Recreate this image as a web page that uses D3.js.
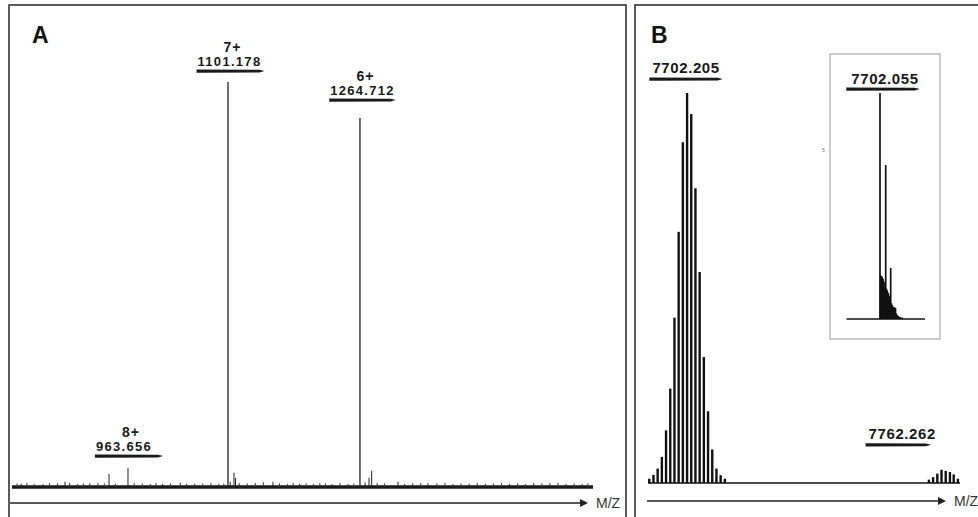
<!DOCTYPE html>
<html>
<head>
<meta charset="utf-8">
<script src="https://cdn.jsdelivr.net/npm/d3@7"></script>
<style>
	body { margin: 0; background: #fff; }
	text { font-family: Arial, "Liberation Sans", sans-serif; }
</style>
</head>
<body>
<script>
// panel A: charge states of the intact protein (m/z, relative intensity)
var mzA = [1101.178, 1264.712, 899.3, 953.8, 977.3, 1104.0, 1108.6, 1110.5, 1156.9,
	1271.0, 1275.9, 1279.2, 1311.8, 1348.9, 845.0, 872.0, 930.0, 1020.0, 1060.0, 1190.0,
	1230.0, 1330.0, 1400.0, 1450.0, 1500.0, 1540.0];
var intA = [100, 91.1, 1.3, 3.2, 4.7, 1.3, 3.5, 2.2, 1.3,
	1.1, 2.3, 4.0, 1.3, 0.9, 0.8, 0.7, 0.9, 0.7, 0.8, 0.8,
	0.7, 0.9, 0.8, 0.7, 0.9, 0.7];
// baseline noise spikes
var noiseMzA = [840, 852, 861, 880, 890, 905, 915, 922, 940, 948, 962, 985, 995, 1005, 1012,
	1030, 1042, 1050, 1070, 1080, 1090, 1096, 1115, 1125, 1135, 1145, 1165, 1175, 1182,
	1198, 1207, 1215, 1222, 1240, 1250, 1257, 1286, 1295, 1320, 1340, 1360, 1370, 1380,
	1390, 1410, 1420, 1430, 1440, 1460, 1470, 1480, 1490, 1510, 1520, 1530, 1547];
var noiseIntA = [0.5, 0.6, 0.4, 0.6, 0.5, 0.7, 0.4, 0.5, 0.6, 0.5, 0.4, 0.6, 0.5, 0.4, 0.6,
	0.5, 0.7, 0.4, 0.5, 0.6, 0.4, 0.5, 0.6, 0.5, 0.6, 0.8, 0.5, 0.4, 0.6,
	0.5, 0.4, 0.6, 0.5, 0.6, 0.4, 0.5, 0.6, 0.5, 0.4, 0.6, 0.5, 0.6, 0.4,
	0.5, 0.6, 0.4, 0.5, 0.6, 0.5, 0.4, 0.6, 0.5, 0.6, 0.4, 0.5, 0.5];
var labelsA = [
	{ charge: "7+", value: "1101.178", mz: 1101.178, level: 100 },
	{ charge: "6+", value: "1264.712", mz: 1264.712, level: 91.1 },
	{ charge: "8+", value: "963.656", mz: 963.656, level: 4.7 }
];

// panel B: deconvoluted isotope envelope
var mzB = [7693.2, 7694.2, 7695.2, 7696.2, 7697.2, 7698.2, 7699.2, 7700.2, 7701.2,
	7702.205, 7703.2, 7704.2, 7705.2, 7706.2, 7707.2, 7708.2, 7709.2, 7710.2, 7711.2,
	7759.8, 7760.8, 7761.8, 7762.8, 7763.8, 7764.8, 7765.7, 7766.7];
var intB = [1.1, 2.1, 3.7, 6.7, 13.5, 24.2, 42.4, 64.4, 87.4,
	100, 94.6, 75.6, 54.1, 32.3, 18.4, 8.6, 3.7, 2.0, 1.1,
	0.85, 1.5, 2.4, 3.4, 3.1, 2.8, 2.2, 1.1];
var labelsB = [
	{ value: "7702.205", mz: 7702.205, level: 100 },
	{ value: "7762.262", mz: 7762.262, level: 3.4 }
];

// inset: monoisotopic spectrum
var mzIn = [7702.055, 7702.4, 7702.67, 7702.98, 7703.28, 7703.6, 7703.89, 7704.2, 7704.5, 7705.0,
	7705.54, 7705.95, 7706.33, 7706.64, 7706.94, 7707.25, 7707.55, 7708.1,
	7708.58, 7709.0, 7709.38, 7709.7, 7709.99, 7710.3, 7710.6, 7711.0, 7711.51, 7712.0,
	7712.43, 7713.0, 7713.65, 7714.5, 7715.47];
var intIn = [100, 19.5, 19.0, 18.8, 18.6, 18.0, 17.7, 17.0, 16.4, 14.0,
	68.1, 13.5, 12.8, 12.0, 11.5, 11.0, 10.2, 9.0,
	22.6, 7.0, 6.2, 5.8, 5.3, 5.2, 5.1, 5.0, 4.9, 2.5,
	1.8, 1.4, 1.1, 0.8, 0.7];
var labelIn = { value: "7702.055", mz: 7702.055, level: 100 };

var width = 978;
var height = 517;

var svg = d3.select("body").append("svg")
	.attr("width", width)
	.attr("height", height);

// frames (cut by the bottom of the picture)
svg.append("rect").attr("x", 9).attr("y", 5).attr("width", 617).attr("height", 530)
	.attr("fill", "none").attr("stroke", "#333").attr("stroke-width", 1.6);
svg.append("rect").attr("x", 635).attr("y", 5).attr("width", 360).attr("height", 530)
	.attr("fill", "none").attr("stroke", "#333").attr("stroke-width", 1.6);

// scales
var xA = d3.scaleLinear().domain([833.6, 1553.4]).range([12, 593]);
var yA = d3.scaleLinear().domain([0, 100]).range([487, 82]);
var xB = d3.scaleLinear().domain([7692.9, 7767.2]).range([648, 960]);
var yB = d3.scaleLinear().domain([0, 100]).range([483, 93]);
var xIn = d3.scaleLinear().domain([7679.5, 7729.5]).range([843, 925]);
var yIn = d3.scaleLinear().domain([0, 100]).range([319, 93]);

// underline bar with a tapered right end
function bar(g, x0, x1, y) {
	g.append("path")
		.attr("d", "M" + x0 + "," + (y - 1.5) + "L" + (x1 - 5) + "," + (y - 1.3) +
			"L" + x1 + "," + y + "L" + (x1 - 5) + "," + (y + 1.5) + "L" + x0 + "," + (y + 1.7) + "Z")
		.attr("fill", "#1a1a1a");
}

// arrow axis
function arrow(g, x0, x1, y, label) {
	g.append("line").attr("x1", x0).attr("x2", x1 - 6).attr("y1", y).attr("y2", y)
		.attr("stroke", "#222").attr("stroke-width", 1.4);
	g.append("path").attr("d", "M" + (x1 - 8) + "," + (y - 4) + "L" + x1 + "," + y + "L" + (x1 - 8) + "," + (y + 4) + "Z")
		.attr("fill", "#222");
	g.append("text").attr("x", x1 + 8).attr("y", y + 5).attr("font-size", 14)
		.attr("fill", "#333").text(label);
}

/* panel A */
var gA = svg.append("g");
gA.append("text").attr("x", 32).attr("y", 43).attr("font-size", 23).attr("font-weight", "bold")
	.attr("fill", "#111").text("A");

gA.append("line").attr("x1", xA(833.6)).attr("x2", xA(1553.4)).attr("y1", yA(0)).attr("y2", yA(0))
	.attr("stroke", "#1a1a1a").attr("stroke-width", 3.4);

gA.selectAll(".noiseA").data(noiseMzA).enter().append("line")
	.attr("class", "noiseA")
	.attr("x1", function (d) { return xA(d); })
	.attr("x2", function (d) { return xA(d); })
	.attr("y1", yA(0))
	.attr("y2", function (d, i) { return yA(noiseIntA[i]) - 1.5; })
	.attr("stroke", "#333")
	.attr("stroke-width", 1);

gA.selectAll(".peakA").data(mzA).enter().append("line")
	.attr("class", "peakA")
	.attr("x1", function (d) { return xA(d); })
	.attr("x2", function (d) { return xA(d); })
	.attr("y1", yA(0))
	.attr("y2", function (d, i) { return yA(intA[i]); })
	.attr("stroke", "#222")
	.attr("stroke-width", function (d, i) { return intA[i] > 50 ? 1.3 : 1; });

arrow(gA, 10, 588, 503, "M/Z");

// label offsets (px) for the A annotations
var liftA = [11, 18, 12];
var shiftA = [1.5, 2.5, 7];
var chargeShiftA = [3, 3, 7];
var barExtraA = [3, 1, 11];
labelsA.forEach(function (d, i) {
	var cx = xA(d.mz) + shiftA[i];
	var by = yA(d.level) - liftA[i];
	var t = gA.append("text").attr("x", cx).attr("y", by - 5)
		.attr("text-anchor", "middle").attr("font-size", 13).attr("font-weight", "bold")
		.attr("letter-spacing", 1.3).attr("fill", "#1a1a1a").text(d.value);
	var bb = t.node().getBBox();
	bar(gA, bb.x - 1, bb.x + bb.width + barExtraA[i], by);
	gA.append("text").attr("x", cx + chargeShiftA[i]).attr("y", by - 19)
		.attr("text-anchor", "middle").attr("font-size", 14).attr("font-weight", "bold")
		.attr("letter-spacing", 1).attr("fill", "#1a1a1a").text(d.charge);
});

/* panel B */
var gB = svg.append("g");
gB.append("text").attr("x", 651).attr("y", 43).attr("font-size", 23).attr("font-weight", "bold")
	.attr("fill", "#111").text("B");

gB.append("line").attr("x1", xB(7692.9)).attr("x2", xB(7767.2)).attr("y1", yB(0)).attr("y2", yB(0))
	.attr("stroke", "#111").attr("stroke-width", 1.6);

gB.selectAll(".peakB").data(mzB).enter().append("line")
	.attr("class", "peakB")
	.attr("x1", function (d) { return xB(d); })
	.attr("x2", function (d) { return xB(d); })
	.attr("y1", yB(0))
	.attr("y2", function (d, i) { return yB(intB[i]); })
	.attr("stroke", "#111")
	.attr("stroke-width", 2.4);

arrow(gB, 647, 946, 501, "M/Z");

var liftB = [14, 25];
var shiftB = [-1, -37];
labelsB.forEach(function (d, i) {
	var cx = xB(d.mz) + shiftB[i];
	var by = yB(d.level) - liftB[i];
	var t = gB.append("text").attr("x", cx).attr("y", by - 6)
		.attr("text-anchor", "middle").attr("font-size", 15).attr("font-weight", "bold")
		.attr("letter-spacing", 0.6).attr("fill", "#1a1a1a").text(d.value);
	var bb = t.node().getBBox();
	bar(gB, bb.x - 3, bb.x + bb.width + (i === 0 ? 3 : -5), by);
});

/* inset */
var gIn = svg.append("g");
gIn.append("rect").attr("x", 830).attr("y", 54).attr("width", 110).attr("height", 285)
	.attr("fill", "#fff").attr("stroke", "#999").attr("stroke-width", 1);
gIn.append("line").attr("x1", xIn(7681.6)).attr("x2", xIn(7729.5)).attr("y1", yIn(0)).attr("y2", yIn(0))
	.attr("stroke", "#111").attr("stroke-width", 1.5);
gIn.selectAll(".peakIn").data(mzIn).enter().append("line")
	.attr("class", "peakIn")
	.attr("x1", function (d) { return xIn(d); })
	.attr("x2", function (d) { return xIn(d); })
	.attr("y1", yIn(0))
	.attr("y2", function (d, i) { return yIn(intIn[i]); })
	.attr("stroke", "#111")
	.attr("stroke-width", 1.7);

var tIn = gIn.append("text").attr("x", xIn(labelIn.mz) + 5).attr("y", yIn(labelIn.level) - 9)
	.attr("text-anchor", "middle").attr("font-size", 15).attr("font-weight", "bold")
	.attr("letter-spacing", 0.6).attr("fill", "#1a1a1a").text(labelIn.value);
var bbIn = tIn.node().getBBox();
bar(gIn, bbIn.x - 5, bbIn.x + bbIn.width + 1, yIn(labelIn.level) - 4);

// stray tick mark left of the inset
svg.append("text").attr("x", 822).attr("y", 152).attr("font-size", 5).attr("fill", "#777").text("5");
</script>
</body>
</html>
